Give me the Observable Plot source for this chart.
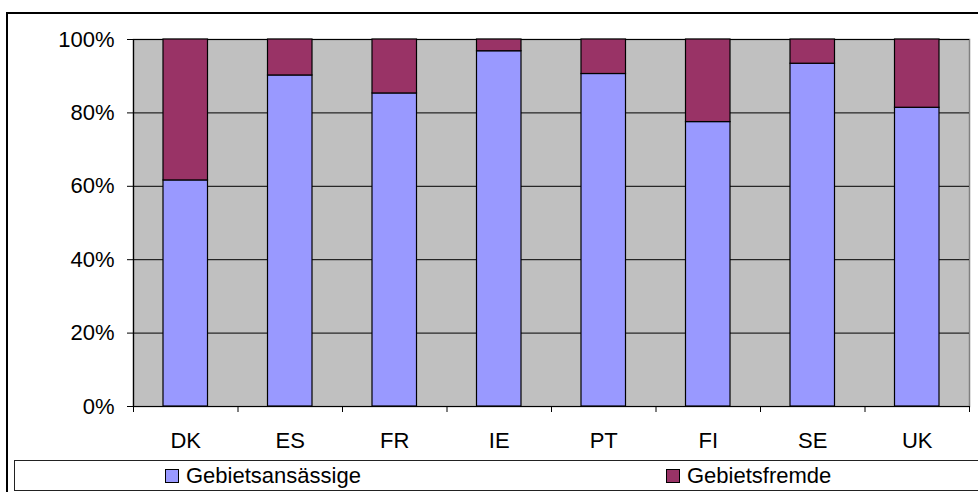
<!DOCTYPE html>
<html>
<head>
<meta charset="utf-8">
<script src="https://cdn.jsdelivr.net/npm/d3@7"></script>
<script src="https://cdn.jsdelivr.net/npm/@observablehq/plot@0.6"></script>
<style>
  html, body { margin: 0; padding: 0; background: #fff; }
  #wrap { position: relative; width: 978px; height: 492px; overflow: hidden; background: #fff;
          font-family: "Liberation Sans", Arial, sans-serif; }
  #outer { position: absolute; left: 6px; top: 12px; width: 990px; height: 500px;
           border: 2px solid #000; box-sizing: border-box; }
  #chart { position: absolute; left: 0; top: 0; }
  #legend { position: absolute; left: 14px; top: 460px; width: 1000px; height: 31px;
            border: 1px solid #222; box-sizing: border-box; background: #fff; }
  .item { position: absolute; top: 0; height: 29px; display: flex; align-items: center;
          font-size: 22px; color: #000; white-space: nowrap; }
  .sw { width: 12px; height: 12px; border: 1px solid #000; margin-right: 7px; }
</style>
</head>
<body>
<div id="wrap">
  <div id="outer"></div>
  <div id="chart"></div>
  <div id="legend"></div>
</div>
<script>
// Data (shares in %)
const categories = ["DK", "ES", "FR", "IE", "PT", "FI", "SE", "UK"];
const seriesNames = ["Gebietsansässige", "Gebietsfremde"];
const gebietsansaessige = [61.6, 90.2, 85.3, 96.8, 90.6, 77.5, 93.4, 81.4];
const gebietsfremde     = [38.4,  9.8, 14.7,  3.2,  9.4, 22.5,  6.6, 18.6];
const seriesColors = ["#9999FF", "#993366"];
const yTicks = [0, 20, 40, 60, 80, 100];

// Build the stacked table
const rows = [];
categories.forEach((c, i) => {
  const a = gebietsansaessige[i], f = gebietsfremde[i];
  rows.push({cat: c, i, series: seriesNames[0], y1: 0, y2: a});
  rows.push({cat: c, i, series: seriesNames[1], y1: a, y2: a + f});
});
const boundaries = d3.range(categories.length + 1);
const centers = categories.map((c, i) => i + 0.5);

const chart = Plot.plot({
  width: 978,
  height: 460,
  marginLeft: 133,
  marginRight: 9,
  marginTop: 39,
  marginBottom: 54,
  style: {background: "transparent", fontSize: "22px", fontFamily: "'Liberation Sans', Arial, sans-serif", color: "#000", overflow: "visible"},
  x: {domain: [0, categories.length], label: null},
  y: {domain: [0, 100], label: null},
  color: {domain: seriesNames, range: seriesColors},
  marks: [
    Plot.frame({fill: "#C0C0C0", stroke: "#808080", strokeWidth: 1.5}),
    Plot.gridY(yTicks, {stroke: "#000", strokeOpacity: 1, strokeWidth: 1}),
    Plot.rect(rows, {x1: "i", x2: d => d.i + 1, y1: "y1", y2: "y2", fill: "series",
                     stroke: "#000", strokeWidth: 1.2, insetLeft: 30, insetRight: 30}),
    Plot.axisY({ticks: yTicks, tickFormat: d => d + "%", tickSize: 6, tickPadding: 13,
                stroke: "#000", strokeOpacity: 1, fontSize: 22, label: null}),
    Plot.axisX({ticks: boundaries, tickFormat: () => "", tickSize: 6, stroke: "#000",
                strokeOpacity: 1, label: null}),
    Plot.axisX({ticks: centers, tickFormat: d => categories[Math.round(d - 0.5)], tickSize: 0,
                tickPadding: 26, fontSize: 22, label: null}),
    Plot.ruleX([0], {stroke: "#000", strokeWidth: 1.2}),
    Plot.ruleY([0], {stroke: "#000", strokeWidth: 1.2})
  ]
});
document.getElementById("chart").appendChild(chart);

// Legend
const legend = document.getElementById("legend");
const legendX = [150, 651];
seriesNames.forEach((name, k) => {
  const it = document.createElement("div");
  it.className = "item";
  it.style.left = legendX[k] + "px";
  const sw = document.createElement("div");
  sw.className = "sw";
  sw.style.background = seriesColors[k];
  const tx = document.createElement("span");
  tx.textContent = name;
  it.appendChild(sw);
  it.appendChild(tx);
  legend.appendChild(it);
});
</script>
</body>
</html>
